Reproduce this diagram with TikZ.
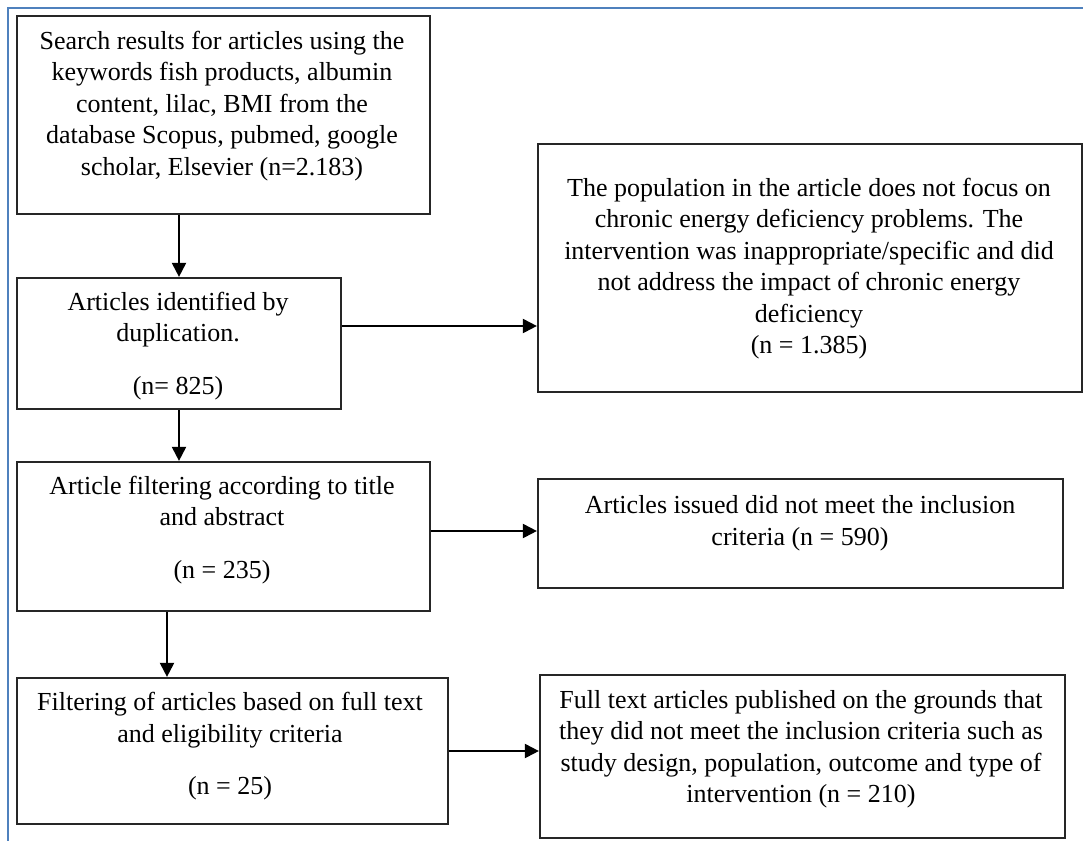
\documentclass[tikz,border=0pt]{standalone}
\usepackage{fontspec}
\setmainfont{Liberation Serif}
\usetikzlibrary{arrows.meta}
\definecolor{frameblue}{RGB}{79,129,189}
\begin{document}
\begin{tikzpicture}[x=1pt,y=-1pt,
  box/.style={draw=black!85,line width=2.2pt,inner sep=0pt,rectangle},
  txt/.style={align=center,font=\fontsize{26}{31.5}\selectfont,inner sep=0pt},
  arr/.style={line width=2pt,-{Triangle[length=14pt,width=14pt]}}]
\useasboundingbox (0,0) rectangle (1083,841);
\fill[white] (0,0) rectangle (1083,841);
\draw[frameblue,line width=2pt] (1083,8) -- (8,8) -- (8,841);

% boxes
\node[box,minimum width=413pt,minimum height=198pt] (b1) at (223.5,115) {};
\node[box,minimum width=324pt,minimum height=131pt] (b2) at (179,343.5) {};
\node[box,minimum width=544pt,minimum height=248pt] (b3) at (810,268) {};
\node[box,minimum width=413pt,minimum height=149pt] (b4) at (223.5,536.5) {};
\node[box,minimum width=525pt,minimum height=109pt] (b5) at (800.5,533.5) {};
\node[box,minimum width=431pt,minimum height=146pt] (b6) at (232.5,751) {};
\node[box,minimum width=525pt,minimum height=163pt] (b7) at (802.5,756.5) {};

% texts
\node[txt] (t1) at (222,106) {Search results for articles using the\\keywords fish products, albumin\\content, lilac, BMI from the\\database Scopus, pubmed, google\\scholar, Elsevier (n=2.183)};
\node[txt] (t2) at (178,346) {Articles identified by\\duplication.\\[21pt](n= 825)};
\node[txt] (t3) at (809,268.5) {The population in the article does not focus on\\chronic energy deficiency problems. The\\intervention was inappropriate/specific and did\\not address the impact of chronic energy\\deficiency\\(n = 1.385)};
\node[txt] (t4) at (222,530) {Article filtering according to title\\and abstract\\[21pt](n = 235)};
\node[txt] (t5) at (800,523) {Articles issued did not meet the inclusion\\criteria (n = 590)};
\node[txt] (t6) at (230,746.5) {Filtering of articles based on full text\\and eligibility criteria\\[21pt](n = 25)};
\node[txt] (t7) at (801,749) {Full text articles published on the grounds that\\they did not meet the inclusion criteria such as\\study design, population, outcome and type of\\intervention (n = 210)};

% connector positions
\coordinate (p23) at (0,326);
\coordinate (p45) at (0,531);
\coordinate (p46) at (167,0);

% connectors
\draw[arr] (b1.south -| b2.north) -- (b2.north);
\draw[arr] (b2.east |- p23) -- (b3.west |- p23);
\draw[arr] (b2.south) -- (b4.north -| b2.south);
\draw[arr] (b4.east |- p45) -- (b5.west |- p45);
\draw[arr] (b4.south -| p46) -- (b6.north -| p46);
\draw[arr] (b6.east) -- (b7.west |- b6.east);
\end{tikzpicture}
\end{document}
